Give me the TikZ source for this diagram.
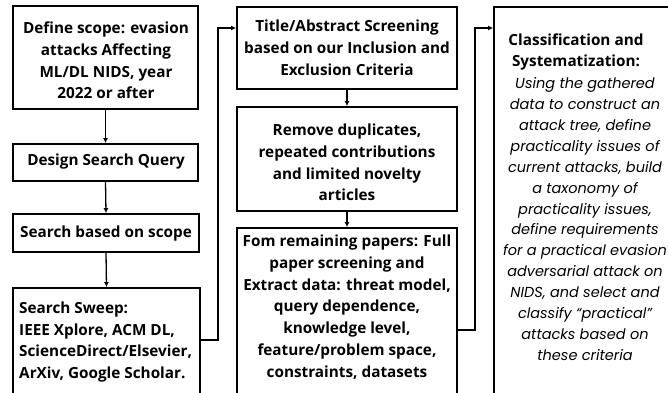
\documentclass[tikz,border=0pt]{standalone}
\usepackage{fontspec}
\setmainfont{Open Sans}
\newfontfamily\itfont{Poppins}
\usetikzlibrary{arrows.meta}
\begin{document}
\begin{tikzpicture}[x=1pt,y=-1pt,
  box/.style={draw, line width=1.8pt, inner sep=0pt},
  lbl/.style={font=\fontsize{15.3}{21.8}\selectfont\bfseries, align=center, inner sep=0pt, text=black},
  itl/.style={font=\itfont\fontsize{14.5}{20.9}\selectfont\itshape, align=center, inner sep=0pt, text=black},
  conn/.style={line width=1.3pt, -{Latex[length=5pt,width=5pt]}}]
\useasboundingbox (0,0) rectangle (668,392);
\clip (0,0) rectangle (668,392);
% boxes
\node[box, minimum width=185pt, minimum height=103pt] (b1) at (105.5,57.5) {};
\node[box, minimum width=185pt, minimum height=37pt] (b2) at (105.5,162.5) {};
\node[box, minimum width=186pt, minimum height=38pt] (b3) at (106,233) {};
\node[box, minimum width=187pt, minimum height=132pt] (b4) at (106.5,354) {};
\node[box, minimum width=220pt, minimum height=82pt] (b5) at (347,48) {};
\node[box, minimum width=220pt, minimum height=104pt] (b6) at (347,159) {};
\node[box, minimum width=220pt, minimum height=192pt] (b7) at (347,324) {};
\node[box, minimum width=226pt, minimum height=413pt] (b8) at (607,213.5) {};
% texts
\node[lbl] (t1) at (106,60.5) {Define scope: evasion\\attacks Affecting\\ML/DL NIDS, year\\2022 or after};
\node[lbl] (t2) at (106,162) {Design Search Query};
\node[lbl] (t3) at (106,234) {Search based on scope};
\node[lbl, align=left, anchor=west] (t4) at (19,342) {Search Sweep:\\IEEE Xplore, ACM DL,\\ScienceDirect/Elsevier,\\ArXiv, Google Scholar.};
\node[lbl] (t5) at (347,48) {Title/Abstract Screening\\based on our Inclusion and\\Exclusion Criteria};
\node[lbl] (t6) at (347,162.5) {Remove duplicates,\\repeated contributions\\and limited novelty\\articles};
\node[lbl] (t7) at (347,307) {Fom remaining papers: Full\\paper screening and\\Extract data: threat model,\\query dependence,\\knowledge level,\\feature/problem space,\\constraints, datasets};
\node[lbl] (t8) at (576,52) {Classification and\\Systematization:};
\node[itl] (t9) at (585,219) {Using the gathered\\data to construct an\\attack tree, define\\practicality issues of\\current attacks, build\\a taxonomy of\\practicality issues,\\define requirements\\for a practical evasion\\adversarial attack on\\NIDS, and select and\\classify “practical”\\attacks based on\\these criteria};
% connectors
\draw[conn] (b1.south) -- (b2.north);
\draw[conn] (b2.south) -- (b3.north);
\draw[conn] (b3.south) -- (b4.north);
\coordinate (j1) at (218,340);
\coordinate (j2) at (218,28);
\draw[conn] (b4.east |- j1) -- (j1) -- (j2) -- (b5.west |- j2);
\draw[conn] (b5.south) -- (b6.north);
\draw[conn] (b6.south) -- (b7.north);
\coordinate (j3) at (475,330);
\coordinate (j4) at (475,28);
\draw[conn] (b7.east |- j3) -- (j3) -- (j4) -- (b8.west |- j4);
\end{tikzpicture}
\end{document}
